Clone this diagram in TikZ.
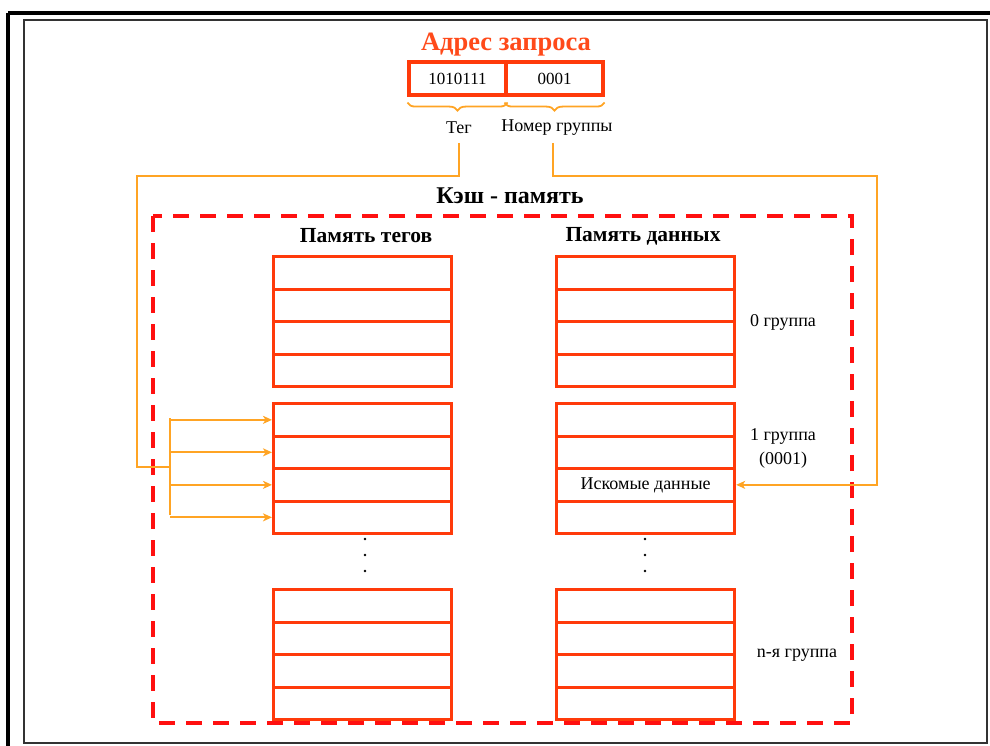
\documentclass[tikz,border=0pt]{standalone}
\usepackage{fontspec}
\setmainfont{Liberation Serif}
\usetikzlibrary{arrows.meta,decorations.pathreplacing}
\definecolor{blk}{HTML}{FF3A0A}
\definecolor{conn}{HTML}{FFA424}
\definecolor{dash}{HTML}{FF1010}
\definecolor{titlered}{HTML}{FF4A1A}
\tikzset{
  cell/.style={draw=blk, line width=3.2pt, fill=white},
  wire/.style={draw=conn, line width=2pt},
  wirearrow/.style={wire, -{Stealth[length=9pt,width=8pt,inset=2.5pt]}},
  bracewire/.style={draw=conn, line width=1.8pt, decorate, decoration={brace, mirror, amplitude=8pt}},
  lbl/.style={font=\fontsize{18}{21}\selectfont, inner sep=0pt},
  hdr/.style={font=\bfseries\fontsize{21.5}{25}\selectfont, inner sep=0pt},
  cachebox/.style={draw=dash, line width=4pt, dash pattern=on 16pt off 11pt},
  dotm/.style={circle, fill=black, inner sep=0pt, minimum size=2.6pt},
}
\begin{document}
\begin{tikzpicture}[x=1pt,y=-1pt]
\useasboundingbox (0,0) rectangle (990,746);
% frame
\draw[black, line width=4pt] (8,13) -- (995,13);
\draw[black, line width=4pt] (8,13) -- (8,750);
\draw[black!80, line width=2pt] (24,20) rectangle (987,743);

% request address
\node[font=\bfseries\fontsize{26.5}{30}\selectfont, text=titlered, inner sep=0pt] (title) at (506,45) {Адрес запроса};
\node[cell, minimum width=97pt, minimum height=33pt, inner sep=0pt, label={[lbl, font=\fontsize{17}{20}\selectfont]center:1010111}] (tagf) at (457.5,78.5) {};
\node[cell, minimum width=97pt, minimum height=33pt, inner sep=0pt, label={[lbl, font=\fontsize{17}{20}\selectfont]center:0001}] (grpf) at (554.5,78.5) {};
\draw[bracewire] ([yshift=-6pt]tagf.south west) -- ([yshift=-6pt]tagf.south east);
\draw[bracewire] ([yshift=-6pt]grpf.south west) -- ([yshift=-6pt]grpf.south east);
\node[lbl] (teg) at (459,128) {Тег};
\node[lbl] (nomer) at (557,128) {Номер группы};

% cache box
\node[hdr, font=\bfseries\fontsize{24}{28}\selectfont] (cache) at (510,196) {Кэш - память};
\draw[cachebox] (153,216) rectangle (852,723);
\node[hdr] (tagmem) at (366,236) {Память тегов};
\node[hdr] (datmem) at (643,236) {Память данных};

% blocks
\foreach \nm/\x in {t/272, d/555} {
  \foreach \g/\y in {0/255, 1/402, n/588} {
    \foreach \r in {0,1,2,3} {
      \node[cell, minimum width=178pt, minimum height=32.5pt, inner sep=0pt, anchor=north west] (\nm\g\r) at (\x,\y+\r*32.5) {};
    }
  }
}
\node[lbl] (found) at (d12) {Искомые данные};

% dots
\foreach \x/\nm in {365/a, 645/b} {
  \node[dotm] (dot\nm1) at (\x,539) {};
  \node[dotm] (dot\nm2) at (\x,555) {};
  \node[dotm] (dot\nm3) at (\x,571) {};
}

% group labels
\node[lbl] (g0) at (783,322) {0 группа};
\node[lbl] (g1) at (783,436) {1 группа};
\node[lbl] (g1b) at (783,460) {(0001)};
\node[lbl] (gn) at (797,655) {n-я группа};

% connectors
\coordinate (tdown) at (459,143);
\coordinate (tc1) at (459,176);
\coordinate (tc2) at (137,176);
\coordinate (tc3) at (137,467);
\coordinate (tj) at (170,467);
\coordinate (tt) at (170,418);
\coordinate (tb) at (170,515);
\draw[wire] (tdown) -- (tc1) -- (tc2) -- (tc3) -- (tj);
\draw[wire] (tt) -- (tb);
\foreach \r in {0,1,2,3} {
  \draw[wirearrow] (tt |- t1\r.west) -- (t1\r.west);
}
\coordinate (ndown) at (553,143);
\coordinate (nc1) at (553,176);
\coordinate (nc2) at (877,176);
\draw[wirearrow] (ndown) -- (nc1) -- (nc2) -- (nc2 |- d12.east) -- (d12.east);
\end{tikzpicture}
\end{document}
